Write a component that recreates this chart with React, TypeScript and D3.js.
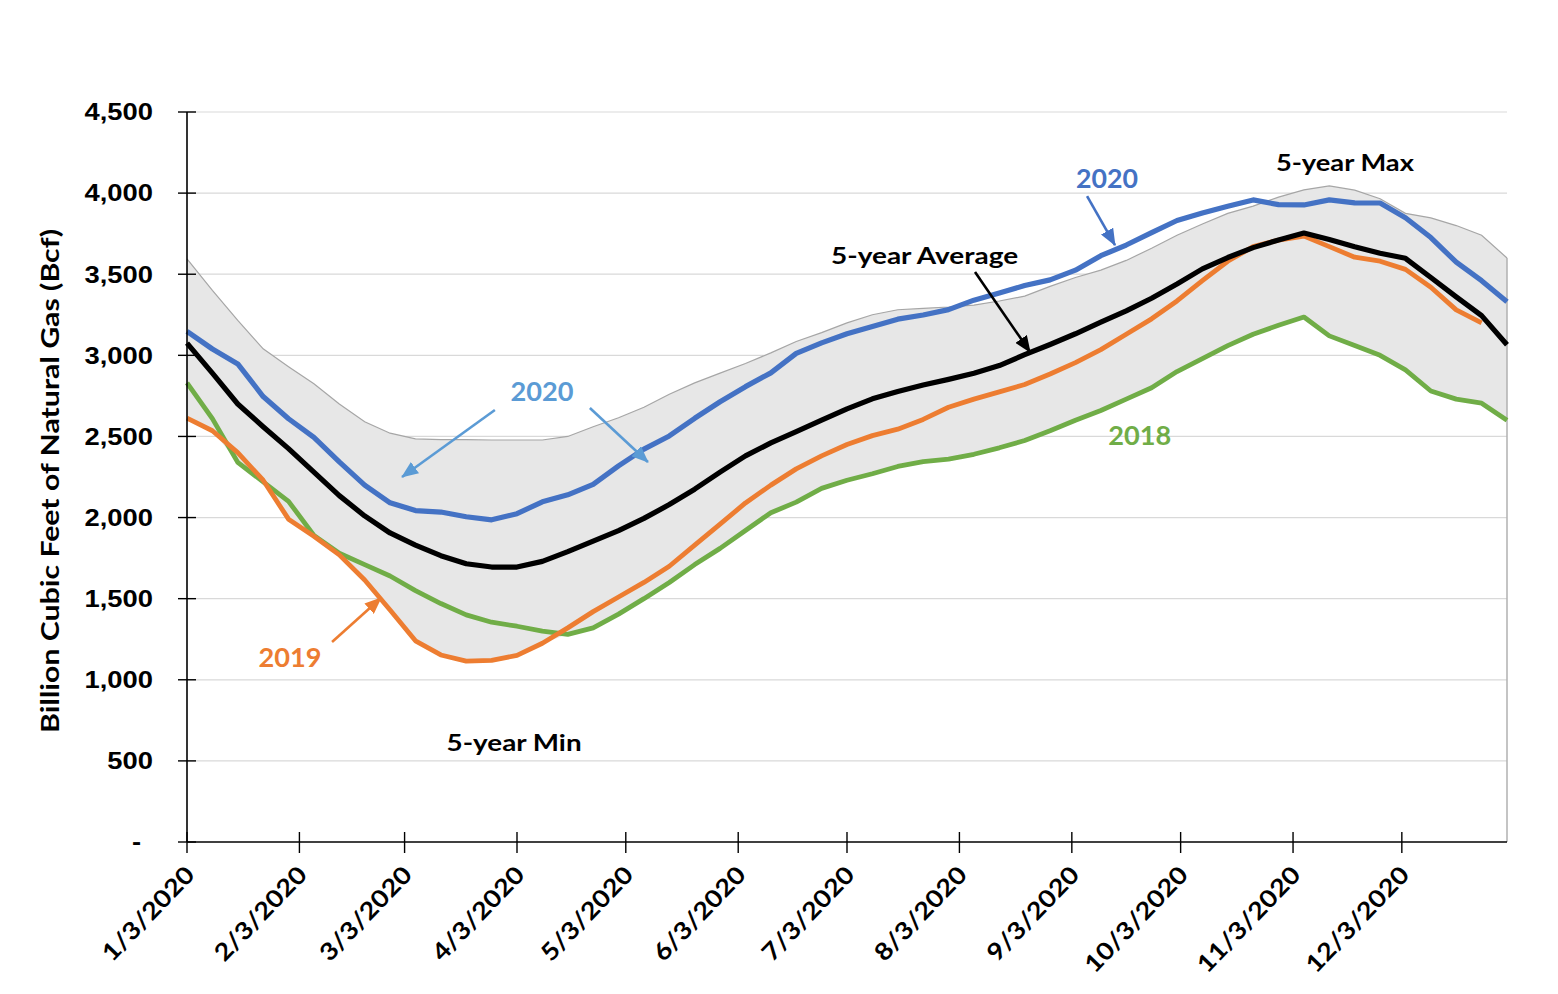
import React from "react";
import * as d3 from "d3";

// ---------- data (weekly, Bcf) ----------
const firstWeek = "2020-01-03";
const axisEnd = "2021-01-01";
const monthTickDates = [
  "2020-01-03", "2020-02-03", "2020-03-03", "2020-04-03", "2020-05-03", "2020-06-03",
  "2020-07-03", "2020-08-03", "2020-09-03", "2020-10-03", "2020-11-03", "2020-12-03",
];
const yTickValues = [0, 500, 1000, 1500, 2000, 2500, 3000, 3500, 4000, 4500];

const storage2020 = [
  3148, 3039, 2947, 2746, 2609, 2494, 2343, 2200, 2091, 2043, 2034, 2005, 1986, 2024,
  2097, 2140, 2205, 2319, 2422, 2503, 2612, 2714, 2807, 2892, 3012, 3077, 3133, 3178,
  3223, 3249, 3282, 3340, 3384, 3430, 3465, 3525, 3614, 3680, 3756, 3831, 3877, 3919,
  3958, 3929, 3927, 3958, 3940, 3939, 3848, 3726, 3574, 3460, 3330,
];
const storage2019 = [
  2613, 2535, 2400, 2230, 1990, 1885, 1770, 1615, 1430, 1240, 1153, 1115, 1120, 1150,
  1225, 1320, 1420, 1510, 1600, 1700, 1830, 1960, 2090, 2200, 2300, 2380, 2450, 2505,
  2545, 2605, 2680, 2730, 2775, 2820, 2885, 2955, 3035, 3130, 3225, 3335, 3460, 3580,
  3670, 3710, 3735, 3670, 3605, 3580, 3530, 3420, 3280, 3200,
];
const storage2018 = [
  2830, 2610, 2340, 2220, 2100, 1890, 1780, 1710, 1640, 1550, 1470, 1400, 1355, 1330,
  1300, 1280, 1320, 1405, 1500, 1600, 1710, 1810, 1920, 2030, 2095, 2180, 2230, 2270,
  2315, 2345, 2360, 2390, 2430, 2475, 2535, 2600, 2660, 2730, 2800, 2900, 2980, 3060,
  3130, 3185, 3236, 3120, 3060, 3000, 2910, 2780, 2730, 2705, 2600,
];
const fiveYearAvg = [
  3075, 2890, 2700, 2560, 2425, 2280, 2135, 2010, 1905, 1830, 1765, 1715, 1695, 1695,
  1730, 1790, 1855, 1920, 1995, 2080, 2175, 2280, 2380, 2460, 2530, 2600, 2670, 2732,
  2777, 2817, 2852, 2890, 2937, 3004, 3067, 3133, 3204, 3274, 3352, 3440, 3533, 3603,
  3664, 3711, 3754, 3714, 3669, 3629, 3598, 3480, 3360, 3245, 3065,
];
const fiveYearMax = [
  3594, 3400, 3215, 3040, 2930, 2825, 2700, 2590, 2520, 2485, 2480, 2480, 2478, 2478,
  2478, 2500, 2560, 2615, 2680, 2760, 2830, 2890, 2950, 3015, 3085, 3140, 3200, 3250,
  3281, 3290, 3298, 3310, 3335, 3365, 3425, 3480, 3525, 3585, 3660, 3740, 3810, 3875,
  3920, 3975, 4020, 4044, 4018, 3965, 3875, 3847, 3800, 3740, 3600,
];
const fiveYearMin = [
  2613, 2535, 2340, 2220, 1990, 1885, 1770, 1615, 1430, 1240, 1153, 1115, 1120, 1150,
  1225, 1280, 1320, 1405, 1500, 1600, 1710, 1810, 1920, 2030, 2095, 2180, 2230, 2270,
  2315, 2345, 2360, 2390, 2430, 2475, 2535, 2600, 2660, 2730, 2800, 2900, 2980, 3060,
  3130, 3185, 3236, 3120, 3060, 3000, 2910, 2780, 2730, 2705, 2600,
];

const yAxisTitle = "Billion Cubic Feet of Natural Gas (Bcf)";

// annotation anchors in data space: [days after first week, Bcf]
const textNotes = [
  { text: "2020", at: [97.9, 2718], color: "#5b9bd5", size: 26, len: 63 },
  { text: "2020", at: [253.7, 4031], color: "#4472c4", size: 26, len: 62 },
  { text: "5-year Max", at: [319.3, 4136], color: "#000", size: 23, len: 138 },
  { text: "5-year Average", at: [203.4, 3563], color: "#000", size: 23, len: 187 },
  { text: "2019", at: [28.4, 1079], color: "#ed7d31", size: 26, len: 63 },
  { text: "2018", at: [262.7, 2447], color: "#70ad47", size: 26, len: 63 },
  { text: "5-year Min", at: [90.2, 561], color: "#000", size: 23, len: 135 },
];
const arrowNotes = [
  { from: [84.9, 2663], to: [59.3, 2250], color: "#5b9bd5" },
  { from: [111.1, 2675], to: [127.1, 2342], color: "#5b9bd5" },
  { from: [248.2, 3982], to: [255.9, 3680], color: "#4472c4" },
  { from: [217.3, 3514], to: [232.5, 3020], color: "#000000" },
  { from: [40.0, 1233], to: [53.5, 1504], color: "#ed7d31" },
];

const parse = d3.timeParse("%Y-%m-%d");

export default function App() {
  const W = 1558;
  const H = 994;
  const start = parse(firstWeek) as Date;
  const end = parse(axisEnd) as Date;
  const x = d3.scaleTime().domain([start, end]).range([187, 1507]);
  const y = d3.scaleLinear().domain([0, 4500]).range([842, 112]);
  const weeks = d3.range(fiveYearAvg.length).map((i) => d3.timeDay.offset(start, 7 * i));
  const px = (d: number[]) => [x(new Date(start.getTime() + d[0] * 864e5)), y(d[1])];

  const line = d3
    .line<number>()
    .x((_, i) => x(weeks[i]))
    .y((d) => y(d));
  const band = d3
    .area<number>()
    .x((_, i) => x(weeks[i]))
    .y0((_, i) => y(fiveYearMin[i]))
    .y1((d) => y(d));
  const bandTop = line(fiveYearMax) as string;

  const fmt = d3.format(",");
  const dateFmt = d3.timeFormat("%-m/%-d/%Y");
  const [x0, x1] = x.range();
  const lastIdx = fiveYearMax.length - 1;

  const series = [
    { values: storage2018, color: "#70ad47", width: 4.8 },
    { values: storage2019, color: "#ed7d31", width: 4.8 },
    { values: fiveYearAvg, color: "#000000", width: 5.2 },
    { values: storage2020, color: "#4472c4", width: 5.2 },
  ];

  const markerId = (c: string) => "arr" + c.replace("#", "");

  return (
    <svg
      width={W}
      height={H}
      style={{ position: "absolute", left: 0, top: 0, background: "#fff" }}
    >
      <defs>
        {arrowNotes.map((a, i) => (
          <marker
            key={i}
            id={markerId(a.color)}
            markerUnits="userSpaceOnUse"
            markerWidth={18}
            markerHeight={14}
            refX={16}
            refY={7}
            orient="auto"
          >
            <path d="M0,0 L17,7 L0,14 Z" fill={a.color} />
          </marker>
        ))}
      </defs>
      <rect x={0} y={0} width={W} height={H} fill="#fff" />

      {/* gridlines */}
      {yTickValues.slice(1).map((v) => (
        <line key={v} x1={x0} x2={x1} y1={y(v)} y2={y(v)} stroke="#d9d9d9" strokeWidth={1.2} />
      ))}

      {/* 5-year band */}
      <path d={band(fiveYearMax) as string} fill="#e7e7e7" />
      <path d={bandTop} fill="none" stroke="#a6a6a6" strokeWidth={1.2} />
      <line
        x1={x(weeks[lastIdx])}
        x2={x(weeks[lastIdx])}
        y1={y(fiveYearMax[lastIdx])}
        y2={y(0)}
        stroke="#b0b0b0"
        strokeWidth={1.5}
      />

      {/* series */}
      {series.map((s, i) => (
        <path
          key={i}
          d={line(s.values) as string}
          fill="none"
          stroke={s.color}
          strokeWidth={s.width}
          strokeLinejoin="round"
          strokeLinecap="butt"
        />
      ))}

      {/* axes */}
      <line x1={x0} x2={x0} y1={y(4500)} y2={y(0)} stroke="#000" strokeWidth={1.6} />
      <line x1={x0} x2={x1} y1={y(0)} y2={y(0)} stroke="#000" strokeWidth={1.6} />
      {yTickValues.map((v) => (
        <g key={v}>
          <line x1={x0 - 9} x2={x0 + 9} y1={y(v)} y2={y(v)} stroke="#000" strokeWidth={1.4} />
          <text
            transform={`translate(${v === 0 ? 141 : 153},${y(v)}) scale(1.19,1)`}
            dy="0.36em"
            textAnchor="end"
            fontFamily="'Liberation Sans', Arial, sans-serif"
            fontWeight="bold"
            fontSize={23}
            fill="#000"
          >
            {v === 0 ? "-" : fmt(v)}
          </text>
        </g>
      ))}
      {monthTickDates.map((d) => {
        const dt = parse(d) as Date;
        const tx = x(dt);
        return (
          <g key={d}>
            <line x1={tx} x2={tx} y1={y(0) - 10} y2={y(0) + 11} stroke="#000" strokeWidth={1.4} />
            <text
              transform={`translate(${tx + 9},${y(0) + 34}) rotate(-46) scale(1.14,1)`}
              textAnchor="end"
              fontFamily="Lato, 'Open Sans', sans-serif"
              fontWeight="bold"
              fontSize={24}
              fill="#000"
            >
              {dateFmt(dt)}
            </text>
          </g>
        );
      })}

      {/* y axis title */}
      <text
        transform={`translate(59,${(y(0) + y(4500)) / 2 + 4}) rotate(-90)`}
        textAnchor="middle"
        fontFamily="Lato, 'Open Sans', sans-serif"
        fontWeight="bold"
        fontSize={24}
        textLength={504}
        lengthAdjust="spacingAndGlyphs"
        fill="#000"
      >
        {yAxisTitle}
      </text>

      {/* annotations */}
      {arrowNotes.map((a, i) => {
        const [ax, ay] = px(a.from);
        const [bx, by] = px(a.to);
        return (
          <line
            key={i}
            x1={ax}
            y1={ay}
            x2={bx}
            y2={by}
            stroke={a.color}
            strokeWidth={2.6}
            markerEnd={`url(#${markerId(a.color)})`}
          />
        );
      })}
      {textNotes.map((t, i) => {
        const [tx, ty] = px(t.at);
        return (
          <text
            key={i}
            x={tx - t.len / 2}
            y={ty}
            fontFamily="Lato, 'Open Sans', sans-serif"
            fontWeight="bold"
            fontSize={t.size}
            textLength={t.len}
            lengthAdjust="spacingAndGlyphs"
            fill={t.color}
          >
            {t.text}
          </text>
        );
      })}
    </svg>
  );
}
